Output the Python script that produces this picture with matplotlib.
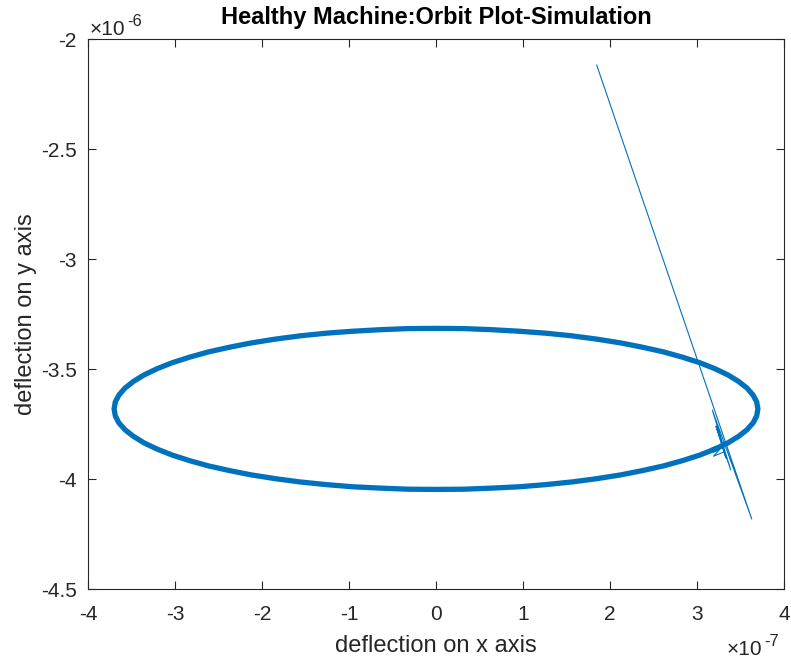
import numpy as np
import matplotlib
matplotlib.use("Agg")
import matplotlib.pyplot as plt

# orbit deflections (x in units of 1e-7, y in units of 1e-6)
orbit_x = [3.204, 3.353, 3.477, 3.574, 3.644, 3.686, 3.700, 3.686, 3.644, 3.574,
           3.477, 3.353, 3.204, 3.031, 2.834, 2.616, 2.378, 2.122, 1.850, 1.564,
           1.265, 0.958, 0.642, 0.323, 0.000, -0.323, -0.642, -0.958, -1.265, -1.564,
           -1.850, -2.122, -2.378, -2.616, -2.834, -3.031, -3.204, -3.353, -3.477, -3.574,
           -3.644, -3.686, -3.700, -3.686, -3.644, -3.574, -3.477, -3.353, -3.204, -3.031,
           -2.834, -2.616, -2.378, -2.122, -1.850, -1.564, -1.265, -0.958, -0.642, -0.323,
           0.000, 0.323, 0.642, 0.958, 1.265, 1.564, 1.850, 2.122, 2.378, 2.616,
           2.834, 3.031, 3.204]
orbit_y = [-3.863, -3.835, -3.805, -3.775, -3.744, -3.712, -3.680, -3.648, -3.617, -3.585,
           -3.555, -3.525, -3.497, -3.470, -3.445, -3.421, -3.400, -3.380, -3.363, -3.348,
           -3.336, -3.327, -3.320, -3.315, -3.314, -3.315, -3.320, -3.327, -3.336, -3.348,
           -3.363, -3.380, -3.400, -3.421, -3.445, -3.470, -3.497, -3.525, -3.555, -3.585,
           -3.617, -3.648, -3.680, -3.712, -3.744, -3.775, -3.805, -3.835, -3.863, -3.890,
           -3.915, -3.939, -3.960, -3.980, -3.997, -4.012, -4.024, -4.034, -4.040, -4.045,
           -4.046, -4.045, -4.040, -4.034, -4.024, -4.012, -3.997, -3.980, -3.960, -3.939,
           -3.915, -3.890, -3.863]

# start-up transient before the rotor settles on the orbit
trans_x = [1.847, 3.629, 3.176, 3.387, 3.218, 3.333, 3.259, 3.310, 3.190, 3.270, 3.204]
trans_y = [-2.117, -4.180, -3.685, -3.957, -3.758, -3.903, -3.799, -3.876, -3.895, -3.860, -3.863]

x_ticks = [-4, -3, -2, -1, 0, 1, 2, 3, 4]
y_ticks = [-4.5, -4, -3.5, -3, -2.5, -2]

blue = "#0072BD"
dark = "#262626"
W, H = 791, 665

plt.rcParams["font.family"] = ["Liberation Sans", "DejaVu Sans"]
plt.rcParams["axes.unicode_minus"] = False

fig = plt.figure(figsize=(W / 100, H / 100), dpi=100)
ax = fig.add_axes([88 / W, 75.7 / H, 696 / W, 550 / H])

ax.plot(trans_x, trans_y, color=blue, lw=0.8)
ax.plot(orbit_x, orbit_y, color=blue, lw=3.8, solid_joinstyle="round")

ax.set_xlim(-4, 4)
ax.set_ylim(-4.5, -2)
ax.set_xticks(x_ticks)
ax.set_yticks(y_ticks)
ax.set_xticklabels([f"{v:g}" for v in x_ticks])
ax.set_yticklabels([f"{v:g}" for v in y_ticks])

ax.tick_params(direction="in", length=6, width=0.8, colors=dark, labelsize=15,
               top=True, right=True, pad=8)
ax.tick_params(axis="x", pad=11)
for s in ax.spines.values():
    s.set_color(dark)
    s.set_linewidth(0.8)

ax.set_xlabel("deflection on x axis", fontsize=17, color=dark, labelpad=8)
ax.set_ylabel("deflection on y axis", fontsize=17, color=dark, labelpad=3)
ax.set_title("Healthy Machine:Orbit Plot-Simulation", fontsize=17, fontweight="bold",
             color="black", pad=11)


# axis multipliers, placed in pixel terms
def multiplier(x, base_y, power):
    fig.text(x / W, 1 - base_y / H, "\u00d710", fontsize=15, color=dark,
             ha="left", va="baseline")
    fig.text((x + 37) / W, 1 - (base_y - 9) / H, power, fontsize=12, color=dark,
             ha="left", va="baseline")


multiplier(90, 35, "-6")
multiplier(727, 655, "-7")

fig.savefig("out.png", dpi=100)
plt.close(fig)
